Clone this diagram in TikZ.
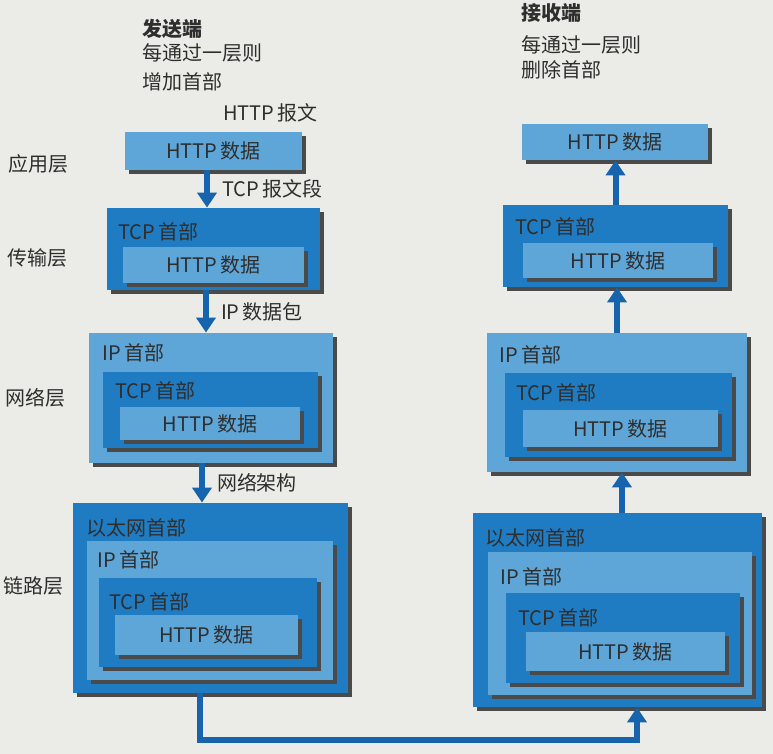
\documentclass[tikz,border=0pt]{standalone}
\usepackage{fontspec}
\setmainfont{Noto Sans CJK SC}
\usepackage{tikz}
\usetikzlibrary{arrows.meta, fit, shadows, positioning}

\definecolor{paper}{HTML}{EBEBE7}
\definecolor{pale}{HTML}{5FA6D8}
\definecolor{deep}{HTML}{1F7CC2}
\definecolor{flowblue}{HTML}{1663AE}
\definecolor{ink}{HTML}{2E2E2E}
\definecolor{shade}{HTML}{4A4A4A}

\tikzset{
    pktbox/.style={inner sep=0pt,
        drop shadow={shadow xshift=1.8pt, shadow yshift=-2pt, fill=shade, opacity=1}},
    palebox/.style={pktbox, fill=pale},
    deepbox/.style={pktbox, fill=deep},
    hdr/.style={anchor=west, inner sep=0pt, text=ink, font=\fontsize{10}{12}\selectfont},
    payload/.style={label={[hdr, anchor=center]center:HTTP\,数据}},
    flow/.style={draw=flowblue, line width=3pt, -{Triangle[width=9.5pt,length=7.5pt]}},
}

\begin{document}
\begin{tikzpicture}[x=0.5pt, y=-0.5pt]
    \fill[paper] (0,0) rectangle (773,754);
    \useasboundingbox (0,0) rectangle (773,754);

    % titles
    \node[hdr] (sendt) at (142,29) {\bfseries 发送端};
    \node[hdr] (sendl1) at (142,53) {每通过一层则};
    \node[hdr] (sendl2) at (142,82) {增加首部};
    \node[hdr] (recvt) at (521,13) {\bfseries 接收端};
    \node[hdr] (recvl1) at (521,45) {每通过一层则};
    \node[hdr] (recvl2) at (521,70) {删除首部};

    % layer names
    \node[hdr] (lapp) at (8,164) {应用层};
    \node[hdr] (ltrans) at (7,258) {传输层};
    \node[hdr] (lnet) at (5,398) {网络层};
    \node[hdr] (llink) at (3,586) {链路层};

    % sender side
    \node[hdr] (msg) at (223,113) {HTTP\,报文};
    \node[palebox, payload, fit={(125,132) (302,170)}] (s1) {};

    \node[deepbox, fit={(107,208) (320,290)}] (s2) {};
    \node[hdr] (s2h) at (118,232) {TCP\,首部};
    \node[palebox, payload, fit={(123,247) (304,283)}] (s2d) {};

    \node[palebox, fit={(89,333) (333,463)}] (s3) {};
    \node[hdr] (s3h) at (102,353) {IP\,首部};
    \node[deepbox, fit={(103,372) (318,448)}] (s3t) {};
    \node[hdr] (s3th) at (115,391) {TCP\,首部};
    \node[palebox, payload, fit={(120,407) (300,440)}] (s3d) {};

    \node[deepbox, fit={(73,503) (348,693)}] (s4) {};
    \node[hdr] (s4h) at (86,528) {以太网首部};
    \node[palebox, fit={(87,541) (333,680)}] (s4i) {};
    \node[hdr] (s4ih) at (97,560) {IP\,首部};
    \node[deepbox, fit={(99,578) (317,667)}] (s4t) {};
    \node[hdr] (s4th) at (109,602) {TCP\,首部};
    \node[palebox, payload, fit={(115,615) (298,655)}] (s4d) {};

    % receiver side
    \node[palebox, payload, fit={(522,124) (708,160)}] (r1) {};

    \node[deepbox, fit={(503,205) (728,287)}] (r2) {};
    \node[hdr] (r2h) at (515,227) {TCP\,首部};
    \node[palebox, payload, fit={(523,243) (713,278)}] (r2d) {};

    \node[palebox, fit={(487,333) (747,472)}] (r3) {};
    \node[hdr] (r3h) at (499,355) {IP\,首部};
    \node[deepbox, fit={(505,373) (732,457)}] (r3t) {};
    \node[hdr] (r3th) at (516,393) {TCP\,首部};
    \node[palebox, payload, fit={(523,410) (718,447)}] (r3d) {};

    \node[deepbox, fit={(473,513) (762,707)}] (r4) {};
    \node[hdr] (r4h) at (485,538) {以太网首部};
    \node[palebox, fit={(488,552) (752,695)}] (r4i) {};
    \node[hdr] (r4ih) at (500,577) {IP\,首部};
    \node[deepbox, fit={(506,593) (740,683)}] (r4t) {};
    \node[hdr] (r4th) at (518,618) {TCP\,首部};
    \node[palebox, payload, fit={(526,632) (725,671)}] (r4d) {};

    % going down
    \draw[flow] ([xshift=-3.25pt]s1.south) -- ([xshift=-3.25pt]s1.south |- s2.north)
        node[hdr, pos=0.5, right=6pt] (segt) {TCP\,报文段};
    \draw[flow] ([xshift=-3.75pt]s2.south) -- ([xshift=-3.75pt]s2.south |- s3.north)
        node[hdr, pos=0.5, right=6pt] (pktt) {IP\,数据包};
    \draw[flow] ([xshift=-4.5pt]s3.south) -- ([xshift=-4.5pt]s3.south |- s4.north)
        node[hdr, pos=0.5, right=6pt] (frmt) {网络架构};

    % across and up
    \draw[flow] ([xshift=-5.25pt]s4.south) -- ++(0,47) -| ([xshift=9.75pt]r4.south);
    \draw[flow] ([xshift=2.25pt]r4.north) -- ([xshift=2.25pt]r4.north |- r3.south);
    \draw[flow] (r3.north) -- (r3.north |- r2.south);
    \draw[flow] (r2.north) -- (r2.north |- r1.south);
\end{tikzpicture}
\end{document}
